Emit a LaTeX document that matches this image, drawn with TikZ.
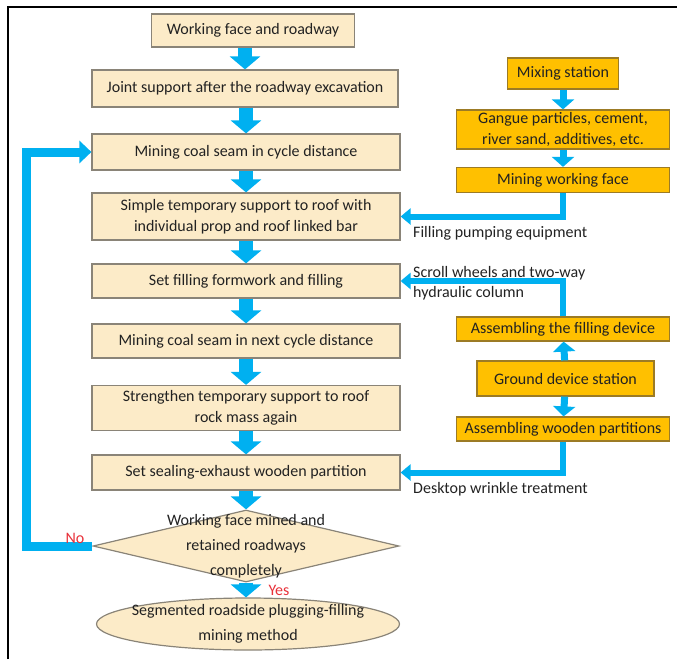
\documentclass[tikz,border=0pt]{standalone}
\usepackage{fontspec}
\setmainfont{Carlito}
\usepackage{xcolor}
\usepackage{tikz}
\usetikzlibrary{arrows.meta,shapes.geometric}
\definecolor{creamfill}{HTML}{FCEBC8}
\definecolor{creamdraw}{HTML}{8A8478}
\definecolor{ambfill}{HTML}{FFC000}
\definecolor{ambdraw}{HTML}{9C7B25}
\definecolor{flowblue}{HTML}{00B0F0}
\definecolor{inktext}{HTML}{222222}
\definecolor{answerred}{HTML}{E8313A}
\tikzset{
  stepnode/.style={rectangle,draw=creamdraw,fill=creamfill,line width=1.2pt,
    minimum width=308pt,minimum height=35pt,inner sep=0pt,align=center,
    text=inktext,font=\fontsize{16}{21}\selectfont},
  stationnode/.style={rectangle,draw=ambdraw,fill=ambfill,line width=1.2pt,
    minimum width=213pt,minimum height=25pt,inner sep=0pt,align=center,
    text=inktext,font=\fontsize{16}{21}\selectfont},
  decisionnode/.style={diamond,draw=creamdraw,fill=creamfill,line width=1.2pt,
    minimum width=306pt,minimum height=72pt,inner sep=0pt},
  resultnode/.style={ellipse,draw=creamdraw,fill=creamfill,line width=1.2pt,
    minimum width=303pt,minimum height=52pt,inner xsep=-14pt,inner ysep=-3pt,
    align=center,text=inktext,font=\fontsize{16}{25}\selectfont},
  notenode/.style={anchor=west,align=left,inner sep=0pt,text=inktext,
    font=\fontsize{16}{20}\selectfont},
  answernode/.style={inner sep=0pt,text=answerred,font=\fontsize{16}{20}\selectfont},
  flowedge/.style={flowblue,line width=14pt,-{Triangle[length=13pt,width=30pt]}},
  stationedge/.style={flowblue,line width=7pt,-{Triangle[length=10pt,width=22pt]}},
  feededge/.style={flowblue,line width=6pt,-{Triangle[length=10pt,width=16pt]}},
  loopedge/.style={flowblue,line width=9pt,-{Triangle[length=12pt,width=22pt]}}
}
\begin{document}
\begin{tikzpicture}[x=1pt,y=-1pt]
  \useasboundingbox (0,0) rectangle (677,659);
  \draw[line width=1.5pt] (8,659) -- (8,7) -- (677,7);

  % main sequence
  \node[stepnode,minimum width=203pt,minimum height=33pt] (face) at (253,30.5) {Working face and roadway};
  \node[stepnode,minimum width=306pt,minimum height=37pt] (joint) at (245,88.5) {Joint support after the roadway excavation};
  \node[stepnode,minimum height=36pt] (cycle) at (246,152) {Mining coal seam in cycle distance};
  \node[stepnode,minimum height=47pt] (temp) at (246,216.5) {Simple temporary support to roof with\\individual prop and roof linked bar};
  \node[stepnode,minimum height=34pt] (formwork) at (246,281) {Set filling formwork and filling};
  \node[stepnode,minimum height=34pt] (next) at (246,341) {Mining coal seam in next cycle distance};
  \node[stepnode,minimum height=45pt] (strengthen) at (246,408) {Strengthen temporary support to roof\\rock mass again};
  \node[stepnode,minimum height=35pt] (sealing) at (246,472.5) {Set sealing-exhaust wooden partition};
  \node[decisionnode,label={[align=center,text=inktext,font=\fontsize{16}{25}\selectfont]center:Working face mined and\\retained roadways\\completely}] (check) at (246,546) {};
  \node[resultnode] (method) at (248,624) {Segmented roadside plugging-filling\\mining method};

  \draw[flowedge] (face.south -| joint.north) -- (joint.north);
  \draw[flowedge] (joint.south -| cycle.north) -- (cycle.north);
  \draw[flowedge] (cycle) -- (temp);
  \draw[flowedge] (temp) -- (formwork);
  \draw[flowedge] (formwork) -- (next);
  \draw[flowedge] (next) -- (strengthen);
  \draw[flowedge] (strengthen) -- (sealing);
  \draw[flowedge] (sealing) -- (check);
  \draw[flowedge] (check.south) -- (method.north -| check.south);
  \draw[loopedge] (check.west) -- ++(-66,0) |- (cycle.west);
  \node[answernode] (no) at (75,538) {No};
  \node[answernode] (yes) at (279,590) {Yes};

  % filling material
  \node[stationnode,minimum width=111pt,minimum height=31pt] (mix) at (563,73.5) {Mixing station};
  \node[stationnode,minimum height=39pt] (gangue) at (563,129.5) {Gangue particles, cement,\\river sand, additives, etc.};
  \node[stationnode] (workface) at (563,180) {Mining working face};
  \draw[stationedge] (mix) -- (gangue);
  \draw[stationedge] (gangue) -- (workface);
  \draw[feededge] (workface.south) |- (temp.east);
  \node[notenode] (pump) at (413,233) {Filling pumping equipment};

  % ground devices
  \node[stationnode,minimum height=24pt] (fillingdev) at (563,329) {Assembling the filling device};
  \node[stationnode,minimum width=177pt,minimum height=35pt] (ground) at (565.5,378.5) {Ground device station};
  \node[stationnode,minimum height=24pt] (wooden) at (563,429) {Assembling wooden partitions};
  \draw[stationedge] (ground) -- (fillingdev);
  \draw[stationedge] (ground) -- (wooden);
  \draw[feededge] (fillingdev.north) |- (formwork.east);
  \draw[feededge] (wooden.south) |- (sealing.east);
  \node[notenode] (scroll) at (413,283) {Scroll wheels and two-way\\hydraulic column};
  \node[notenode] (desktop) at (413,489) {Desktop wrinkle treatment};
\end{tikzpicture}
\end{document}
